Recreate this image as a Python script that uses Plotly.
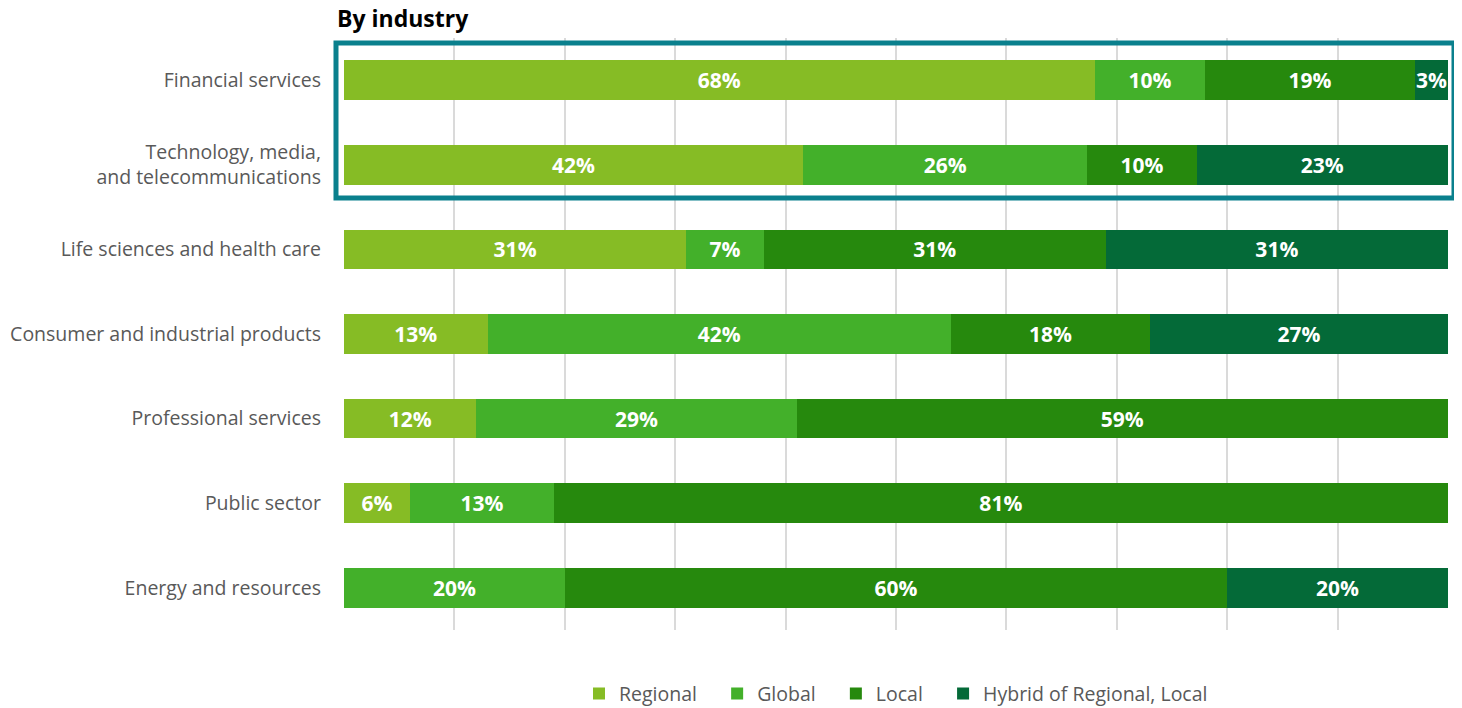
import plotly.graph_objects as go

categories = [
    "Financial services",
    "Technology, media,<br>and telecommunications",
    "Life sciences and health care",
    "Consumer and industrial products",
    "Professional services",
    "Public sector",
    "Energy and resources",
]
regional = [68, 42, 31, 13, 12, 6, 0]
global_ = [10, 26, 7, 42, 29, 13, 20]
local = [19, 10, 31, 18, 59, 81, 60]
hybrid = [3, 23, 31, 27, 0, 0, 20]

series_names = ["Regional", "Global", "Local", "Hybrid of Regional, Local"]
series_values = [regional, global_, local, hybrid]
series_colors = ["#86BC25", "#43B02A", "#26890D", "#046A38"]

FONT = "Open Sans"
W, H = 1454, 700  # page adds 8px body margin; overflow is hidden

fig = go.Figure()
for i, (name, vals, color) in enumerate(zip(series_names, series_values, series_colors)):
    legend_name = name + ("\u00a0\u00a0\u00a0" if i < len(series_names) - 1 else "")
    fig.add_trace(go.Bar(
        name=legend_name,
        y=categories,
        x=vals,
        orientation="h",
        marker=dict(color=color, line=dict(width=0)),
        text=[f"{v}%" if v else "" for v in vals],
        textposition="inside",
        insidetextanchor="middle",
        textangle=0,
        textfont=dict(family=FONT, size=21, color="white", weight="bold"),
        hoverinfo="skip",
    ))

fig.update_layout(
    barmode="stack",
    barnorm="percent",
    bargap=0.53,
    width=W,
    height=H,
    margin=dict(l=336, r=14, t=30, b=78, autoexpand=False),
    plot_bgcolor="white",
    paper_bgcolor="white",
    font=dict(family=FONT, color="#595959", size=19.5),
    uniformtext=dict(minsize=21, mode="show"),
    title=dict(
        text="<b>By industry</b>",
        font=dict(family=FONT, size=23, color="#000000"),
        xref="container", yref="container",
        x=329 / W, xanchor="left",
        y=1 - 11 / H, yanchor="middle",
        pad=dict(l=0, r=0, t=0, b=0),
    ),
    legend=dict(
        orientation="h",
        x=0.5, xanchor="center",
        y=-0.108, yanchor="middle",
        font=dict(family=FONT, size=19.5, color="#595959"),
        traceorder="normal",
        itemwidth=30,
    ),
    xaxis=dict(
        range=[0, 100],
        dtick=10,
        showticklabels=False,
        showgrid=True,
        gridcolor="#DADADA",
        gridwidth=1.5,
        zeroline=False,
        showline=False,
        fixedrange=True,
    ),
    yaxis=dict(
        autorange="reversed",
        showgrid=False,
        showline=False,
        zeroline=False,
        ticks="",
        ticklabelstandoff=22,
        tickfont=dict(family=FONT, size=19.5, color="#595959"),
    ),
)

fig.add_shape(
    type="rect",
    xref="paper", yref="paper",
    x0=-0.00725, x1=1.00543,
    y0=0.7297, y1=0.9916,
    line=dict(color="#0A808D", width=5),
    fillcolor="rgba(0,0,0,0)",
    layer="above",
)

fig.write_html("out.html")
